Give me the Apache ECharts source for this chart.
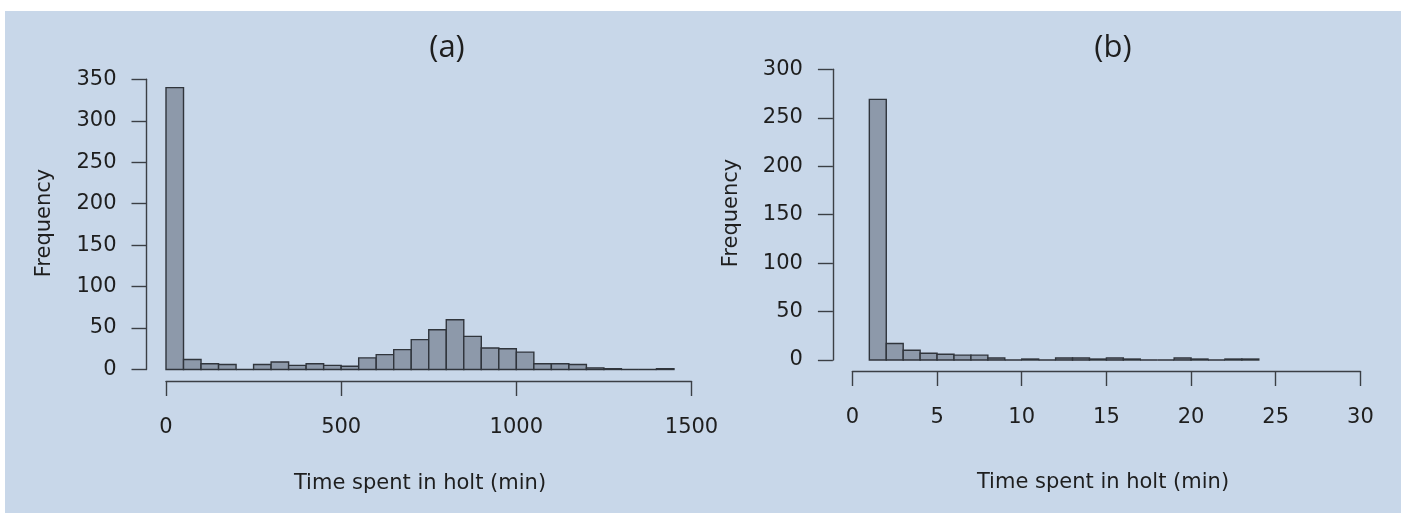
<!DOCTYPE html>
<html>
<head>
<meta charset="utf-8">
<script src="https://cdn.jsdelivr.net/npm/echarts@6/dist/echarts.min.js"></script>
<style>
html,body{margin:0;padding:0;background:#ffffff;}
#bg{position:absolute;left:5px;top:11px;width:1396px;height:502px;background:#c8d7e9;}
#chart{position:absolute;left:0;top:0;width:1405px;height:513px;}
</style>
</head>
<body>
<div id="bg"></div>
<div id="chart"></div>
<script>
// Panel (a): time spent in holt, bins of 50 min
const edgesA = [0,50,100,150,200,250,300,350,400,450,500,550,600,650,700,750,800,850,900,950,1000,1050,1100,1150,1200,1250,1300,1350,1400,1450];
const countsA = [340,12,7,6,0,6,9,5,7,5,4,14,18,24,36,48,60,40,26,25,21,7,7,6,2,1,0,0,1];
// Panel (b): bins of 1 min
const edgesB = [1,2,3,4,5,6,7,8,9,10,11,12,13,14,15,16,17,18,19,20,21,22,23,24];
const countsB = [269,17,10,7,6,5,5,2,0,1,0,2,2,1,2,1,0,0,2,1,0,1,1];
const xTicksA = {min:0, max:1500, interval:500};
const yTicksA = {min:0, max:350, interval:50};
const xTicksB = {min:0, max:30, interval:5};
const yTicksB = {min:0, max:300, interval:50};
const titles = ['(a)','(b)'];
const xTitle = 'Time spent in holt (min)';
const yTitle = 'Frequency';

const FONT = 'DejaVu Sans';
const txt = '#1e1e1e';
const axisCol = '#3b3f45';

function histItem(params, api){
  const x0 = api.value(0), x1 = api.value(1), c = api.value(2);
  const p0 = api.coord([x0, 0]);
  const p1 = api.coord([x1, c]);
  return {
    type:'rect',
    shape:{x:p0[0], y:p1[1], width:p1[0]-p0[0], height:p0[1]-p1[1]},
    style:{fill:'#8d99aa', stroke:'#30353c', lineWidth:1.4}
  };
}
function xAx(idx, t, offset){
  return {type:'value', gridIndex:idx, min:t.min, max:t.max, interval:t.interval, offset:offset,
    axisLine:{show:true, onZero:false, lineStyle:{color:axisCol, width:1.4}},
    axisTick:{show:true, length:15, lineStyle:{color:axisCol, width:1.4}},
    axisLabel:{fontFamily:FONT, fontSize:21, color:txt, margin:36, showMaxLabel:true, showMinLabel:true,
      formatter:function(v){return String(v);}},
    splitLine:{show:false}};
}
function yAx(idx, t, offset){
  return {type:'value', gridIndex:idx, min:t.min, max:t.max, interval:t.interval, offset:offset,
    axisLine:{show:true, onZero:false, lineStyle:{color:axisCol, width:1.4}},
    axisTick:{show:true, length:15, lineStyle:{color:axisCol, width:1.4}},
    axisLabel:{fontFamily:FONT, fontSize:21, color:txt, margin:30, showMaxLabel:true, showMinLabel:true,
      formatter:function(v){return String(v);}},
    splitLine:{show:false}};
}
const chart = echarts.init(document.getElementById('chart'), null, {renderer:'canvas'});
chart.setOption({
  backgroundColor:'transparent',
  animation:false,
  grid:[
    {left:166, top:79.3, width:525.5, height:290.2},
    {left:852.4, top:69.3, width:508, height:290.7}
  ],
  xAxis:[xAx(0, xTicksA, 11.5), xAx(1, xTicksB, 11)],
  yAxis:[yAx(0, yTicksA, 19.5), yAx(1, yTicksB, 19.5)],
  series:[
    {type:'custom', xAxisIndex:0, yAxisIndex:0, renderItem:histItem, clip:false,
     data:countsA.map((c,i)=>[edgesA[i], edgesA[i+1], c]), encode:{x:[0,1], y:2}},
    {type:'custom', xAxisIndex:1, yAxisIndex:1, renderItem:histItem, clip:false,
     data:countsB.map((c,i)=>[edgesB[i], edgesB[i]+ (edgesB[1]-edgesB[0]), c]), encode:{x:[0,1], y:2}}
  ],
  graphic:[
    {type:'text', x:447, y:48, style:{text:titles[0], fontFamily:'Open Sans', fontSize:31, fill:txt, align:'center', verticalAlign:'middle'}},
    {type:'text', x:1113, y:48, style:{text:titles[1], fontFamily:'Open Sans', fontSize:31, fill:txt, align:'center', verticalAlign:'middle'}},
    {type:'text', x:420, y:484, style:{text:xTitle, fontFamily:FONT, fontSize:21, fill:txt, align:'center', verticalAlign:'middle'}},
    {type:'text', x:1103, y:483, style:{text:xTitle, fontFamily:FONT, fontSize:21, fill:txt, align:'center', verticalAlign:'middle'}},
    {type:'text', x:45, y:223, rotation:Math.PI/2, style:{text:yTitle, fontFamily:FONT, fontSize:21, fill:txt, align:'center', verticalAlign:'middle'}},
    {type:'text', x:732, y:213, rotation:Math.PI/2, style:{text:yTitle, fontFamily:FONT, fontSize:21, fill:txt, align:'center', verticalAlign:'middle'}}
  ]
});
</script>
</body>
</html>
